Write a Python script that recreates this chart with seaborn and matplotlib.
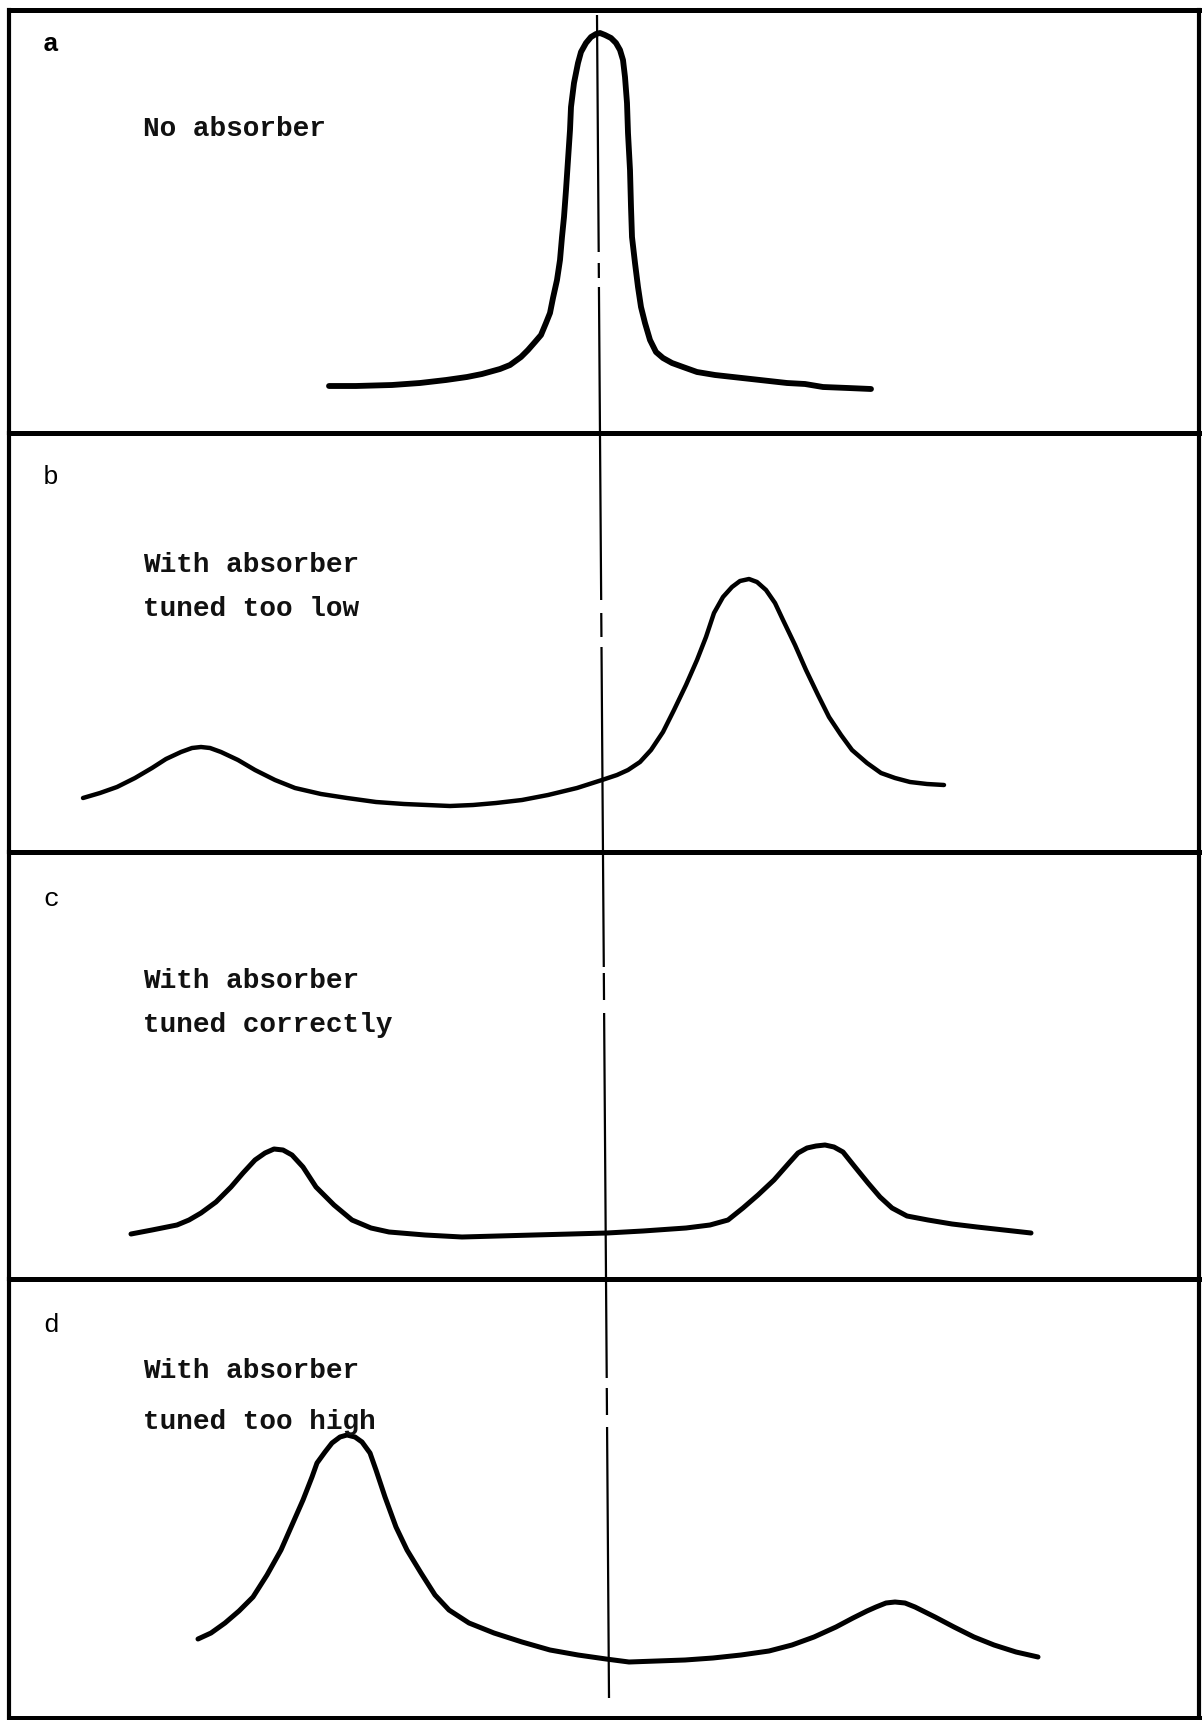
import numpy as np
import pandas as pd
import matplotlib
matplotlib.use("Agg")
import matplotlib.pyplot as plt
import seaborn as sns

# Response curves of the resonant system (horizontal = frequency, vertical = amplitude)
freq_a = [329, 356, 392, 420, 446, 467, 482, 500, 510, 521, 528, 535, 541, 546, 550, 553,
          557, 560, 562, 564, 566, 568, 570, 571, 574, 578, 581, 586, 591, 596, 600, 605,
          611, 616, 620, 623, 625, 627, 628, 630, 631, 632, 635, 638, 641, 645, 650, 656,
          663, 672, 683, 697, 715, 733, 751, 769, 787, 805, 823, 848, 871]
amp_a = [47, 47, 48, 50, 53, 56, 59, 64, 68, 76, 83, 91, 98, 110, 120, 135,
         153, 173, 196, 216, 243, 273, 303, 326, 350, 370, 381, 390, 396, 399, 400, 398,
         395, 390, 383, 373, 356, 330, 300, 263, 226, 196, 170, 146, 126, 110, 93, 81,
         75, 70, 66, 61, 58, 56, 54, 52, 50, 49, 46, 45, 44]

freq_b = [83, 100, 117, 135, 152, 166, 181, 192, 201, 210, 221, 238, 255, 275, 295, 321,
          347, 376, 404, 427, 450, 473, 496, 522, 548, 577, 602, 617, 628, 640, 651, 663,
          674, 686, 697, 706, 714, 723, 732, 740, 749, 757, 766, 775, 783, 795, 806, 818,
          829, 841, 852, 867, 881, 895, 910, 927, 944]
amp_b = [54, 59, 65, 74, 84, 93, 100, 104, 105, 104, 100, 92, 82, 72, 64, 58,
         54, 50, 48, 47, 46, 47, 49, 52, 57, 64, 72, 77, 82, 90, 102, 120,
         142, 167, 192, 215, 239, 255, 265, 271, 273, 270, 262, 249, 232, 207, 182, 157,
         135, 117, 102, 89, 79, 74, 70, 68, 67]

freq_c = [131, 152, 177, 189, 201, 216, 231, 243, 255, 265, 274, 283, 292, 303, 316, 334,
          352, 371, 389, 425, 462, 498, 534, 571, 607, 643, 686, 710, 728, 743, 758, 774,
          789, 798, 807, 816, 825, 834, 843, 855, 868, 880, 892, 907, 928, 952, 977, 1004,
          1031]
amp_c = [45, 49, 54, 59, 66, 77, 92, 106, 119, 126, 130, 129, 124, 112, 92, 74,
         59, 51, 47, 44, 42, 43, 44, 45, 46, 48, 51, 54, 59, 71, 84, 99,
         116, 126, 131, 133, 134, 132, 127, 112, 96, 82, 71, 63, 59, 55, 52, 49,
         46]

freq_d = [198, 211, 225, 239, 253, 267, 281, 292, 303, 312, 317, 325, 332, 340, 347, 355,
          362, 370, 376, 385, 396, 407, 421, 435, 449, 469, 494, 522, 550, 578, 606, 629,
          657, 685, 713, 741, 769, 792, 814, 836, 853, 867, 876, 886, 895, 905, 915, 935,
          954, 974, 994, 1016, 1038]
amp_d = [79, 85, 95, 107, 121, 143, 168, 193, 218, 241, 255, 266, 275, 281, 283, 281,
         276, 265, 248, 221, 191, 168, 145, 123, 108, 95, 85, 76, 68, 63, 59, 56,
         57, 58, 60, 63, 67, 73, 81, 91, 100, 107, 111, 115, 116, 115, 111, 101,
         91, 81, 73, 66, 61]

panel_letters = ["a", "b", "c", "d"]
panel_captions = [["No absorber"],
                  ["With absorber", "tuned too low"],
                  ["With absorber", "tuned correctly"],
                  ["With absorber", "tuned too high"]]

sns.set_theme(style="white")
plt.rcParams["font.family"] = ["Liberation Mono", "DejaVu Sans Mono"]

W, H = 1204, 1720
fig = plt.figure(figsize=(W / 100, H / 100), dpi=100)
fig.patch.set_facecolor("white")

# panel edges in pixels (top, bottom) and the box's horizontal extent
panel_rows = [(10, 433), (433, 852), (852, 1279), (1279, 1718)]
box_left, box_right = 9, 1199

curves = [(freq_a, amp_a, 4.2), (freq_b, amp_b, 3.2), (freq_c, amp_c, 3.6), (freq_d, amp_d, 3.6)]

# caption placement (pixels from top)
letter_y = [44, 477, 899, 1325]
caption_y = [[129], [565, 609], [981, 1025], [1371, 1422]]

for i, ((top, bot), (fx, ay, lw)) in enumerate(zip(panel_rows, curves)):
    ax = fig.add_axes([box_left / W, 1 - bot / H, (box_right - box_left) / W, (bot - top) / H])
    df = pd.DataFrame({"freq": fx, "amp": ay})
    sns.lineplot(data=df, x="freq", y="amp", ax=ax, sort=False, color="black",
                 linewidth=lw, solid_capstyle="round", solid_joinstyle="round")
    ax.set_xlim(box_left, box_right)
    ax.set_ylim(0, bot - top)
    ax.set_xticks([])
    ax.set_yticks([])
    ax.set_xlabel("")
    ax.set_ylabel("")
    ax.patch.set_alpha(0)
    for side, sp in ax.spines.items():
        sp.set_visible(True)
        sp.set_color("black")
        sp.set_linewidth(3.6 if side in ("top", "bottom") else 3.0)

    fig.text(43 / W, 1 - letter_y[i] / H, panel_letters[i], fontsize=19,
             fontweight="bold" if i == 0 else "normal", va="center", ha="left", color="black")
    for line, yy in zip(panel_captions[i], caption_y[i]):
        fig.text(143 / W, 1 - yy / H, line, fontsize=20, fontweight="bold",
                 va="center", ha="left", color="#111111")

# reference line at the original resonance, running through all panels
ov = fig.add_axes([0, 0, 1, 1])
ov.set_xlim(0, W)
ov.set_ylim(H, 0)
ov.set_axis_off()
y_top, y_bot = 15, 1698
x_top, x_bot = 597, 609
breaks = [(252, 263), (278, 287), (600, 613), (637, 647), (967, 973), (1000, 1013),
          (1378, 1388), (1415, 1427)]
edges = [y_top] + [v for b in breaks for v in b] + [y_bot]
for y0, y1 in zip(edges[0::2], edges[1::2]):
    xs = [x_top + (y - y_top) * (x_bot - x_top) / (y_bot - y_top) for y in (y0, y1)]
    ov.plot(xs, [y0, y1], color="black", linewidth=1.6, solid_capstyle="butt")

fig.savefig("out.png", dpi=100, facecolor="white")
